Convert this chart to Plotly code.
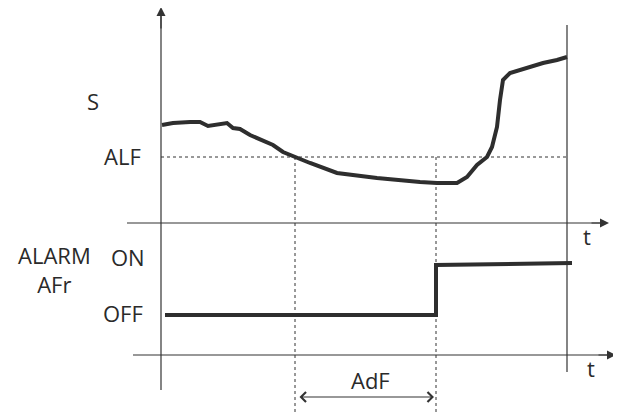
import plotly.graph_objects as go

# Diagram coordinates (x to the right, y downward as in the drawing)
# Probe signal S over time
sig_t = [162, 173, 190, 200, 208, 217, 227, 233, 240, 250, 263, 273, 283, 295, 310,
         337, 377, 420, 437, 457, 467, 477, 487, 492, 497, 500, 503, 510, 527, 543, 557, 567]
sig_v = [125, 123, 122, 122, 126, 125, 123, 128, 129, 135, 141, 145, 152, 157, 163,
         173, 178, 182, 183, 183, 177, 165, 157, 147, 127, 100, 80, 73, 68, 63, 60, 57]

# Alarm state (step)
alarm_t = [165, 436, 436, 572]
alarm_v = [315, 315, 265, 263]

ALF_LEVEL = 157
T_CROSS = 295      # signal crosses ALF
T_ALARM = 436      # alarm after AdF delay
T_END = 567

fig = go.Figure()
ink = "#2e2e2e"
axis_col = "#333333"

def seg(xs, ys, width=1.2, dash=None, color=axis_col):
    fig.add_trace(go.Scatter(x=xs, y=ys, mode="lines",
                             line=dict(color=color, width=width, dash=dash),
                             hoverinfo="skip", showlegend=False))

# axes lines
seg([161, 161], [390, 14])             # main vertical axis
seg([127, 600], [223, 223])            # upper time axis
seg([133, 607], [355, 355])            # lower time axis
seg([T_END, T_END], [25, 372])         # end vertical line

# dashed guides
seg([161, T_END], [ALF_LEVEL, ALF_LEVEL], width=1, dash="3px,3px")
seg([T_CROSS, T_CROSS], [ALF_LEVEL, 412], width=1, dash="3px,3px")
seg([T_ALARM, T_ALARM], [ALF_LEVEL, 412], width=1, dash="3px,3px")

# signal and alarm
seg(sig_t, sig_v, width=4, color=ink)
seg(alarm_t, alarm_v, width=4, color=ink)

# arrowheads on axes
for (x, y, ax, ay) in [(161, 7, 161, 30), (609, 223, 590, 223), (616, 355, 597, 355)]:
    fig.add_annotation(x=x, y=y, ax=ax, ay=ay, xref="x", yref="y", axref="x", ayref="y",
                       text="", showarrow=True, arrowhead=2, arrowsize=1.5,
                       arrowwidth=1.2, arrowcolor=axis_col, standoff=0)

# AdF double arrow
fig.add_annotation(x=434, y=397, ax=298, ay=397, xref="x", yref="y", axref="x", ayref="y",
                   text="", showarrow=True, arrowhead=4, arrowside="end+start",
                   arrowsize=1.6, arrowwidth=1.2, arrowcolor=axis_col,
                   standoff=0, startstandoff=0, startarrowhead=4, startarrowsize=1.6)

font = dict(family="Open Sans, Lato, sans-serif", size=22, color="#2a2a2a")
labels = [("S", 93, 101), ("ALF", 122, 156),
          ("ALARM<br>AFr", 54, 269), ("ON", 128, 257),
          ("OFF", 123, 313),
          ("t", 587, 236), ("t", 591, 368),
          ("AdF", 370, 380)]
for txt, x, y in labels:
    fig.add_annotation(x=x, y=y, xref="x", yref="y", text=txt, showarrow=False,
                       font=font, xanchor="center", yanchor="middle", align="center")

# page body has an 8px margin: keep drawing coordinates aligned with the window
fig.update_layout(width=613, height=404, margin=dict(l=0, r=0, t=0, b=0),
                  paper_bgcolor="white", plot_bgcolor="white",
                  xaxis=dict(range=[8, 621], visible=False, fixedrange=True),
                  yaxis=dict(range=[412, 8], visible=False, fixedrange=True))
fig.write_html("out.html")
